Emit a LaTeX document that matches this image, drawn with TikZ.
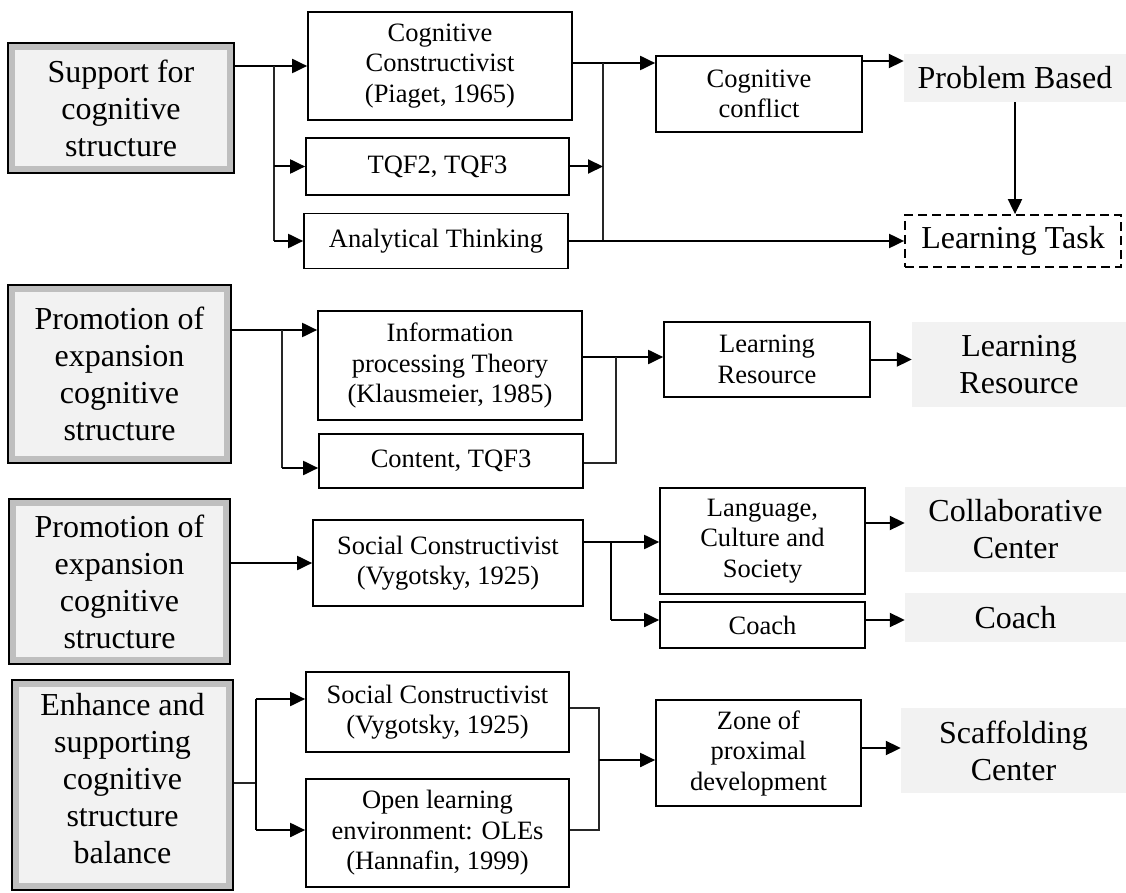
\documentclass[tikz,border=0pt]{standalone}
\usepackage{fontspec}
\setmainfont{Liberation Serif}
\usetikzlibrary{arrows.meta}
\definecolor{lightfill}{HTML}{F2F2F2}
\definecolor{band}{HTML}{BFBFBF}
\newcommand{\bigtxt}{\fontsize{32}{37}\selectfont}
\newcommand{\medtxt}{\fontsize{26.5}{30.5}\selectfont}
\begin{document}
\begin{tikzpicture}[x=1pt,y=-1pt,
  sz/.style 2 args={minimum width=#1pt, minimum height=#2pt},
  box/.style={draw, line width=1.7pt, align=center, inner sep=0pt, font=\medtxt},
  leftbox/.style={draw, line width=1.7pt, fill=band, align=center, inner sep=0pt, font=\bigtxt,
    path picture={\fill[lightfill] ([shift={(7pt,-7pt)}]path picture bounding box.north west) rectangle ([shift={(-7pt,7pt)}]path picture bounding box.south east);}},
  graybox/.style={fill=lightfill, align=center, inner sep=0pt, font=\bigtxt},
  dashbox/.style={draw, line width=1.8pt, dash pattern=on 9pt off 5pt, align=center, inner sep=0pt, font=\bigtxt},
  arr/.style={-{Triangle[length=15pt,width=14pt]}, line width=2pt},
  thinl/.style={line width=1.2pt, draw=black!85},
  thickl/.style={line width=2pt}
]
\useasboundingbox (0,0) rectangle (1126,893);

% ---------- Row 1 ----------
\node[leftbox, sz={226}{130}] (L1) at (121,108) {Support for\\cognitive\\structure};
\node[box, sz={264}{108}] (CC) at (440,66) {Cognitive\\Constructivist\\(Piaget, 1965)};
\node[box, sz={263}{57}] (TQF) at (437.5,166.5) {TQF2, TQF3};
\node[box, sz={264}{55}] (AT) at (436,241) {Analytical Thinking};
\node[box, sz={206}{76}] (CF) at (759,94) {Cognitive\\conflict};
\node[graybox, sz={222}{48}] (PB) at (1015,78) {Problem Based};
\node[dashbox, sz={216}{52}] (LT) at (1013,241) {Learning Task};

\coordinate (j1) at (274,66);
\draw[arr] (L1.east |- CC.west) -- (CC.west);
\draw[thinl] (j1) -- (j1 |- AT.west);
\draw[arr] (j1 |- TQF.west) -- (TQF.west);
\draw[arr] (j1 |- AT.west) -- (AT.west);

\coordinate (j2) at (603,63);
\draw[arr] (CC.east |- j2) -- (CF.west |- j2);
\draw[thinl] (j2) -- (j2 |- AT.east);
\draw[arr] (TQF.east) -- (j2 |- TQF.east);
\draw[arr] (AT.east) -- (LT.west |- AT.east);

\coordinate (j3) at (880,61);
\draw[arr] (CF.east |- j3) -- (PB.west |- j3);
\draw[arr] (PB.south) -- (PB.south |- LT.north);

% ---------- Row 2 ----------
\node[leftbox, sz={223}{178}] (L2) at (119.5,374) {Promotion of\\expansion\\cognitive\\structure};
\node[box, sz={264}{109}] (INFO) at (450,365.5) {Information\\processing Theory\\(Klausmeier, 1985)};
\node[box, sz={264}{54}] (CT) at (451,461) {Content, TQF3};
\node[box, sz={206}{75}] (LRB) at (767,359.5) {Learning\\Resource};
\node[graybox, sz={214}{85}] (LRG) at (1019,364.5) {Learning\\Resource};

\coordinate (j4) at (282,330);
\coordinate (j4b) at (282,468);
\draw[arr] (L2.east |- j4) -- (INFO.west |- j4);
\draw[thinl] (j4) -- (j4b);
\draw[arr] (j4b) -- (CT.west |- j4b);

\coordinate (j5) at (616,357);
\coordinate (j5b) at (616,463);
\draw[arr] (INFO.east |- j5) -- (LRB.west |- j5);
\draw[thinl] (j5) -- (j5b) -- (CT.east |- j5b);
\draw[arr] (LRB.east) -- (LRG.west |- LRB.east);

% ---------- Row 3 ----------
\node[leftbox, sz={221}{165}] (L3) at (119.5,581.5) {Promotion of\\expansion\\cognitive\\structure};
\node[box, sz={270}{86}] (SC) at (448,563) {Social Constructivist\\(Vygotsky, 1925)};
\node[box, sz={205}{106}] (LCS) at (762.5,541) {Language,\\Culture and\\Society};
\node[box, sz={205}{46}] (CO) at (762.5,625) {Coach};
\node[graybox, sz={221}{85}] (CCG) at (1015.5,529.5) {Collaborative\\Center};
\node[graybox, sz={221}{49}] (COG) at (1015.5,617.5) {Coach};

\draw[arr] (L3.east |- SC.west) -- (SC.west);
\coordinate (j7) at (611,542);
\coordinate (j7b) at (611,620);
\draw[arr] (SC.east |- j7) -- (LCS.west |- j7);
\draw[thickl] (j7) -- (j7b);
\draw[arr] (j7b) -- (CO.west |- j7b);
\coordinate (j8) at (880,523);
\draw[arr] (LCS.east |- j8) -- (CCG.west |- j8);
\draw[arr] (CO.east |- j7b) -- (COG.west |- j7b);

% ---------- Row 4 ----------
\node[leftbox, sz={221}{210}, text depth=13pt] (L4) at (122.5,785) {Enhance and\\supporting\\cognitive\\structure\\balance};
\node[box, sz={263}{80}] (SC2) at (437.5,712) {Social Constructivist\\(Vygotsky, 1925)};
\node[box, sz={263}{108}] (OLE) at (437.5,833) {Open learning\\environment: OLEs\\(Hannafin, 1999)};
\node[box, sz={205}{106}] (ZPD) at (758.5,753) {Zone of\\proximal\\development};
\node[graybox, sz={225}{85}] (SCG) at (1013.5,750.5) {Scaffolding\\Center};

\coordinate (j9) at (256,783);
\coordinate (j9a) at (256,699);
\coordinate (j9b) at (256,830);
\draw[thinl] (L4.east |- j9) -- (j9);
\draw[thickl] (j9a) -- (j9b);
\draw[arr] (j9a) -- (SC2.west |- j9a);
\draw[arr] (j9b) -- (OLE.west |- j9b);

\coordinate (j10a) at (599,708);
\coordinate (j10b) at (599,830);
\coordinate (j10) at (599,760);
\draw[thinl] (SC2.east |- j10a) -- (j10a) -- (j10b) -- (OLE.east |- j10b);
\draw[arr] (j10) -- (ZPD.west |- j10);
\coordinate (j11) at (880,748);
\draw[arr] (ZPD.east |- j11) -- (SCG.west |- j11);
\end{tikzpicture}
\end{document}
